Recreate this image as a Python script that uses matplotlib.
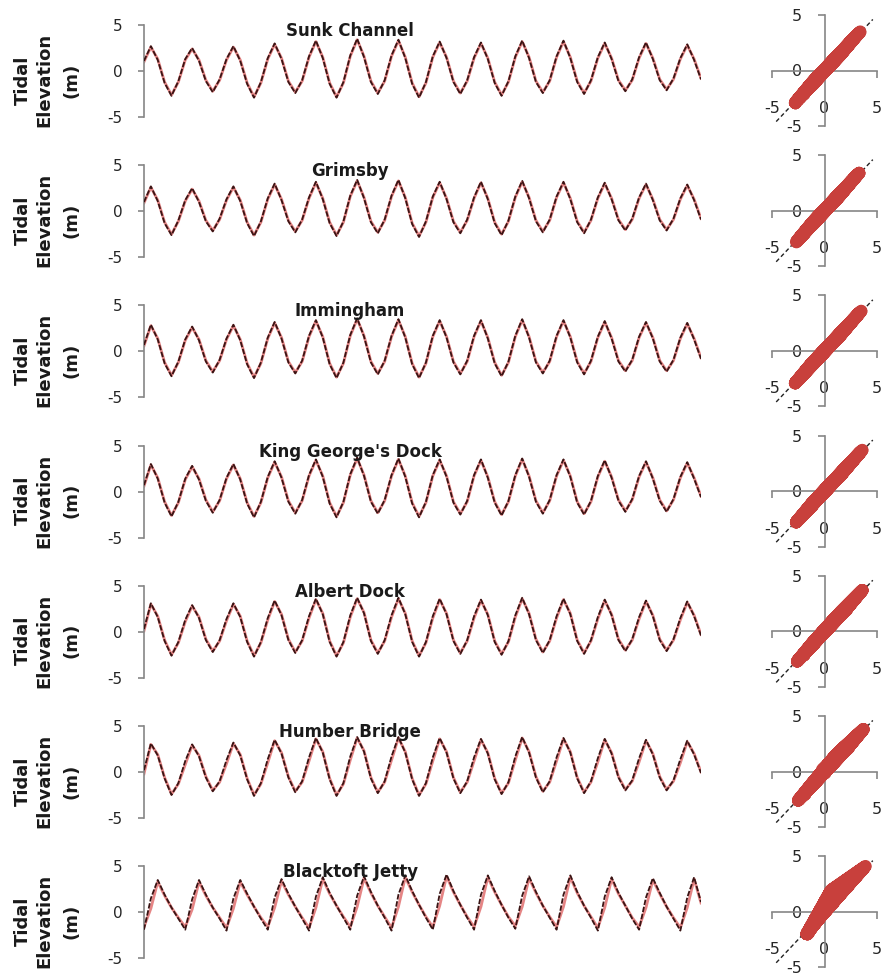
import matplotlib
matplotlib.use("Agg")
import matplotlib.pyplot as plt
import numpy as np

plt.rcParams["axes.unicode_minus"] = False

# tide gauges, seaward to landward
stations = ["Sunk Channel", "Grimsby", "Immingham", "King George's Dock",
            "Albert Dock", "Humber Bridge", "Blacktoft Jetty"]

# elevations (m), sampled 6 times per tidal cycle (~2.07 h)
sunk_model = [1.0, 2.6, 1.3, -1.2, -2.6, -1.2, 1.2, 2.4, 1.2, -1.0, -2.2, -1.0,
              1.2, 2.6, 1.2, -1.3, -2.8, -1.3, 1.3, 2.9, 1.4, -1.1, -2.3, -1.1,
              1.5, 3.2, 1.5, -1.3, -2.8, -1.3, 1.6, 3.4, 1.6, -1.1, -2.4, -1.1,
              1.6, 3.3, 1.5, -1.3, -2.8, -1.3, 1.5, 3.1, 1.5, -1.1, -2.4, -1.1,
              1.4, 3.0, 1.4, -1.2, -2.6, -1.2, 1.5, 3.2, 1.5, -1.1, -2.3, -1.1,
              1.5, 3.2, 1.5, -1.1, -2.4, -1.1, 1.4, 3.0, 1.4, -1.0, -2.1, -1.0,
              1.4, 3.0, 1.4, -0.9, -2.0, -0.9, 1.3, 2.8, 1.3, -0.8]
sunk_obs = [1.1, 2.7, 1.2, -1.3, -2.7, -1.1, 1.3, 2.5, 1.1, -1.1, -2.3, -0.9,
            1.3, 2.7, 1.1, -1.4, -2.9, -1.2, 1.4, 3.0, 1.3, -1.2, -2.4, -1.0,
            1.6, 3.3, 1.4, -1.4, -2.9, -1.2, 1.7, 3.5, 1.5, -1.2, -2.5, -1.0,
            1.7, 3.4, 1.4, -1.4, -2.9, -1.2, 1.6, 3.2, 1.4, -1.2, -2.5, -1.0,
            1.5, 3.1, 1.3, -1.3, -2.7, -1.1, 1.6, 3.3, 1.4, -1.2, -2.4, -1.0,
            1.6, 3.3, 1.4, -1.2, -2.5, -1.0, 1.5, 3.1, 1.3, -1.1, -2.2, -0.9,
            1.5, 3.1, 1.3, -1.0, -2.1, -0.8, 1.4, 2.9, 1.2, -0.9]

grimsby_model = [0.9, 2.6, 1.2, -1.2, -2.5, -1.1, 1.1, 2.4, 1.1, -1.0, -2.1, -0.9,
                 1.2, 2.6, 1.2, -1.2, -2.6, -1.2, 1.3, 2.9, 1.3, -1.0, -2.2, -1.0,
                 1.4, 3.1, 1.4, -1.2, -2.6, -1.2, 1.6, 3.3, 1.5, -1.1, -2.3, -1.0,
                 1.6, 3.3, 1.5, -1.3, -2.7, -1.2, 1.5, 3.1, 1.4, -1.1, -2.3, -1.0,
                 1.4, 3.1, 1.4, -1.2, -2.5, -1.1, 1.5, 3.2, 1.5, -1.0, -2.2, -1.0,
                 1.5, 3.1, 1.4, -1.1, -2.3, -1.0, 1.4, 3.0, 1.4, -0.9, -2.0, -0.9,
                 1.4, 2.9, 1.3, -0.9, -2.0, -0.9, 1.3, 2.8, 1.3, -0.8]
grimsby_obs = [1.0, 2.7, 1.1, -1.3, -2.6, -1.0, 1.2, 2.5, 1.0, -1.1, -2.2, -0.8,
               1.3, 2.7, 1.1, -1.3, -2.7, -1.1, 1.4, 3.0, 1.2, -1.1, -2.3, -0.9,
               1.5, 3.2, 1.3, -1.3, -2.7, -1.1, 1.7, 3.4, 1.4, -1.2, -2.4, -0.9,
               1.7, 3.4, 1.4, -1.4, -2.8, -1.1, 1.6, 3.2, 1.3, -1.2, -2.4, -0.9,
               1.5, 3.2, 1.3, -1.3, -2.6, -1.0, 1.6, 3.3, 1.4, -1.1, -2.3, -0.9,
               1.6, 3.2, 1.3, -1.2, -2.4, -0.9, 1.5, 3.1, 1.3, -1.0, -2.1, -0.8,
               1.5, 3.0, 1.2, -1.0, -2.1, -0.8, 1.4, 2.9, 1.2, -0.9]

immingham_model = [0.6, 2.8, 1.4, -1.2, -2.6, -1.2, 1.2, 2.6, 1.3, -1.0, -2.2, -1.0,
                   1.3, 2.8, 1.3, -1.3, -2.8, -1.3, 1.4, 3.1, 1.5, -1.1, -2.3, -1.1,
                   1.6, 3.3, 1.6, -1.3, -2.8, -1.3, 1.7, 3.5, 1.7, -1.1, -2.4, -1.1,
                   1.6, 3.4, 1.6, -1.3, -2.8, -1.3, 1.6, 3.3, 1.6, -1.1, -2.4, -1.1,
                   1.6, 3.3, 1.5, -1.2, -2.6, -1.2, 1.6, 3.4, 1.6, -1.1, -2.3, -1.1,
                   1.6, 3.3, 1.6, -1.1, -2.4, -1.1, 1.5, 3.2, 1.5, -1.0, -2.1, -1.0,
                   1.5, 3.1, 1.5, -1.0, -2.1, -1.0, 1.4, 3.0, 1.4, -0.7]
immingham_obs = [0.7, 2.9, 1.3, -1.3, -2.7, -1.1, 1.3, 2.7, 1.2, -1.1, -2.3, -0.9,
                 1.4, 2.9, 1.2, -1.4, -2.9, -1.2, 1.5, 3.2, 1.4, -1.2, -2.4, -1.0,
                 1.7, 3.4, 1.5, -1.4, -2.9, -1.2, 1.8, 3.6, 1.6, -1.2, -2.5, -1.0,
                 1.7, 3.5, 1.5, -1.4, -2.9, -1.2, 1.7, 3.4, 1.5, -1.2, -2.5, -1.0,
                 1.7, 3.4, 1.4, -1.3, -2.7, -1.1, 1.7, 3.5, 1.5, -1.2, -2.4, -1.0,
                 1.7, 3.4, 1.5, -1.2, -2.5, -1.0, 1.6, 3.3, 1.4, -1.1, -2.2, -0.9,
                 1.6, 3.2, 1.4, -1.1, -2.2, -0.9, 1.5, 3.1, 1.3, -0.8]

kgd_model = [0.6, 2.9, 1.5, -1.1, -2.6, -1.2, 1.3, 2.7, 1.4, -0.9, -2.2, -1.0,
             1.4, 2.9, 1.4, -1.2, -2.7, -1.2, 1.5, 3.2, 1.6, -1.0, -2.3, -1.0,
             1.7, 3.4, 1.7, -1.2, -2.7, -1.2, 1.8, 3.6, 1.8, -1.0, -2.3, -1.0,
             1.7, 3.5, 1.7, -1.2, -2.7, -1.2, 1.7, 3.4, 1.7, -1.1, -2.4, -1.1,
             1.7, 3.4, 1.6, -1.1, -2.5, -1.1, 1.7, 3.5, 1.7, -1.0, -2.3, -1.0,
             1.7, 3.4, 1.7, -1.1, -2.4, -1.1, 1.6, 3.3, 1.6, -0.9, -2.1, -0.9,
             1.6, 3.2, 1.5, -0.9, -2.1, -0.9, 1.5, 3.1, 1.5, -0.5]
kgd_obs = [0.7, 3.0, 1.4, -1.2, -2.7, -1.1, 1.4, 2.8, 1.3, -1.0, -2.3, -0.9,
           1.5, 3.0, 1.3, -1.3, -2.8, -1.1, 1.6, 3.3, 1.5, -1.1, -2.4, -0.9,
           1.8, 3.5, 1.6, -1.3, -2.8, -1.1, 1.9, 3.7, 1.7, -1.1, -2.4, -0.9,
           1.8, 3.6, 1.6, -1.3, -2.8, -1.1, 1.8, 3.5, 1.6, -1.2, -2.5, -1.0,
           1.8, 3.5, 1.5, -1.2, -2.6, -1.0, 1.8, 3.6, 1.6, -1.1, -2.4, -0.9,
           1.8, 3.5, 1.6, -1.2, -2.5, -1.0, 1.7, 3.4, 1.5, -1.0, -2.2, -0.8,
           1.7, 3.3, 1.4, -1.0, -2.2, -0.8, 1.6, 3.2, 1.4, -0.6]

albert_model = [0.1, 3.0, 1.7, -0.9, -2.5, -1.2, 1.1, 2.8, 1.6, -0.8, -2.1, -1.0,
                1.2, 3.0, 1.7, -1.0, -2.6, -1.2, 1.3, 3.3, 1.9, -0.8, -2.2, -1.0,
                1.5, 3.5, 2.0, -1.0, -2.6, -1.2, 1.6, 3.6, 2.1, -0.9, -2.3, -1.0,
                1.6, 3.6, 2.0, -1.0, -2.6, -1.2, 1.5, 3.5, 2.0, -0.9, -2.3, -1.0,
                1.5, 3.4, 1.9, -1.0, -2.4, -1.1, 1.6, 3.6, 2.0, -0.8, -2.2, -1.0,
                1.5, 3.5, 2.0, -0.9, -2.3, -1.0, 1.4, 3.4, 1.9, -0.8, -2.0, -0.9,
                1.4, 3.3, 1.8, -0.8, -2.0, -0.9, 1.3, 3.2, 1.8, -0.3]
albert_obs = [0.3, 3.1, 1.6, -1.0, -2.6, -1.1, 1.3, 2.9, 1.5, -0.9, -2.2, -0.9,
              1.4, 3.1, 1.6, -1.1, -2.7, -1.1, 1.5, 3.4, 1.8, -0.9, -2.3, -0.9,
              1.7, 3.6, 1.9, -1.1, -2.7, -1.1, 1.8, 3.7, 2.0, -1.0, -2.4, -0.9,
              1.8, 3.7, 1.9, -1.1, -2.7, -1.1, 1.7, 3.6, 1.9, -1.0, -2.4, -0.9,
              1.7, 3.5, 1.8, -1.1, -2.5, -1.0, 1.8, 3.7, 1.9, -0.9, -2.3, -0.9,
              1.7, 3.6, 1.9, -1.0, -2.4, -0.9, 1.6, 3.5, 1.8, -0.9, -2.1, -0.8,
              1.6, 3.4, 1.7, -0.9, -2.1, -0.8, 1.5, 3.3, 1.7, -0.4]

humber_model = [-0.2, 3.0, 1.9, -0.6, -2.4, -1.3, 0.8, 2.9, 1.8, -0.5, -2.0, -1.1,
                0.9, 3.1, 1.9, -0.7, -2.5, -1.3, 1.0, 3.4, 2.1, -0.5, -2.1, -1.1,
                1.2, 3.6, 2.2, -0.7, -2.5, -1.3, 1.3, 3.7, 2.3, -0.6, -2.2, -1.1,
                1.3, 3.7, 2.2, -0.7, -2.5, -1.3, 1.2, 3.6, 2.2, -0.6, -2.2, -1.1,
                1.2, 3.5, 2.1, -0.7, -2.3, -1.2, 1.3, 3.7, 2.2, -0.5, -2.1, -1.1,
                1.2, 3.6, 2.2, -0.6, -2.2, -1.1, 1.1, 3.5, 2.1, -0.5, -1.9, -1.0,
                1.1, 3.4, 2.0, -0.5, -1.9, -1.0, 1.0, 3.3, 2.0, 0.0]
humber_obs = [0.2, 3.1, 1.8, -0.7, -2.5, -1.2, 1.2, 3.0, 1.7, -0.6, -2.1, -1.0,
              1.3, 3.2, 1.8, -0.8, -2.6, -1.2, 1.4, 3.5, 2.0, -0.6, -2.2, -1.0,
              1.6, 3.7, 2.1, -0.8, -2.6, -1.2, 1.7, 3.8, 2.2, -0.7, -2.3, -1.0,
              1.7, 3.8, 2.1, -0.8, -2.6, -1.2, 1.6, 3.7, 2.1, -0.7, -2.3, -1.0,
              1.6, 3.6, 2.0, -0.8, -2.4, -1.1, 1.7, 3.8, 2.1, -0.6, -2.2, -1.0,
              1.6, 3.7, 2.1, -0.7, -2.3, -1.0, 1.5, 3.6, 2.0, -0.6, -2.0, -0.9,
              1.5, 3.5, 1.9, -0.6, -2.0, -0.9, 1.4, 3.4, 1.9, -0.1]

blacktoft_model = [-1.6, 0.4, 3.3, 1.8, 0.5, -0.6, -1.6, 0.3, 3.3, 1.8, 0.5, -0.6,
                   -1.7, 0.4, 3.3, 1.9, 0.6, -0.6, -1.6, 0.5, 3.4, 1.9, 0.6, -0.6,
                   -1.7, 0.5, 3.6, 2.0, 0.7, -0.5, -1.6, 0.6, 3.7, 2.1, 0.7, -0.5,
                   -1.7, 0.6, 3.8, 2.2, 0.8, -0.5, -1.6, 0.7, 3.9, 2.2, 0.8, -0.5,
                   -1.6, 0.6, 3.8, 2.2, 0.8, -0.5, -1.5, 0.6, 3.7, 2.1, 0.7, -0.5,
                   -1.6, 0.6, 3.8, 2.1, 0.7, -0.5, -1.7, 0.5, 3.6, 2.0, 0.7, -0.6,
                   -1.6, 0.5, 3.5, 2.0, 0.6, -0.6, -1.7, 0.5, 3.6, 1.0]
blacktoft_obs = [-1.9, 1.5, 3.5, 1.9, 0.5, -0.7, -1.9, 1.4, 3.5, 1.9, 0.5, -0.7,
                 -2.0, 1.5, 3.5, 2.0, 0.6, -0.7, -1.9, 1.6, 3.6, 2.0, 0.6, -0.7,
                 -2.0, 1.7, 3.8, 2.1, 0.7, -0.6, -1.9, 1.8, 3.9, 2.2, 0.7, -0.6,
                 -2.0, 1.9, 4.0, 2.3, 0.8, -0.6, -1.9, 2.0, 4.1, 2.3, 0.8, -0.6,
                 -1.9, 1.9, 4.0, 2.3, 0.8, -0.6, -1.8, 1.8, 3.9, 2.2, 0.7, -0.6,
                 -1.9, 1.9, 4.0, 2.2, 0.7, -0.6, -2.0, 1.7, 3.8, 2.1, 0.7, -0.7,
                 -1.9, 1.6, 3.7, 2.1, 0.6, -0.7, -2.0, 1.6, 3.8, 1.1]

model_runs = [sunk_model, grimsby_model, immingham_model, kgd_model,
              albert_model, humber_model, blacktoft_model]
obs_runs = [sunk_obs, grimsby_obs, immingham_obs, kgd_obs,
            albert_obs, humber_obs, blacktoft_obs]

W, H = 886, 976
red = "#c8403c"
line_red = "#e58585"
grey = "#868686"
txt = "#262626"

fig = plt.figure(figsize=(W / 100, H / 100), dpi=100)

for r, name in enumerate(stations):
    model = np.array(model_runs[r])
    obs = np.array(obs_runs[r])
    hours = np.arange(len(model)) * 2.07
    top = 25 + 140.2 * r

    # time series
    ax = fig.add_axes([144 / W, 1 - (top + 92) / H, 557 / W, 92 / H])
    ax.plot(hours, model, color=line_red, lw=2.0, zorder=2,
            solid_joinstyle="round")
    ax.plot(hours, obs, color="#3a1414", lw=1.3, dashes=(3, 1), zorder=3)
    ax.set_xlim(hours[0], hours[-1])
    ax.set_ylim(-5, 5)
    for s in ["top", "right", "bottom"]:
        ax.spines[s].set_visible(False)
    ax.spines["left"].set_color(grey)
    ax.spines["left"].set_linewidth(1.2)
    ax.set_xticks([])
    ax.set_yticks([-5, 0, 5])
    ax.tick_params(axis="y", length=4.5, width=1.2, color=grey, pad=11,
                   labelsize=11, labelcolor=txt)
    ax.text(0.37, 4.35, name, transform=ax.get_yaxis_transform(), ha="center",
            va="center", fontsize=12, fontweight="bold", color="#1a1a1a")

    cy = 1 - (top + 46 + 9) / H
    for x, word in [(23, "Tidal"), (44, "Elevation"), (71, "(m)")]:
        fig.text(x / W, cy, word, rotation=90, ha="center", va="center",
                 fontsize=13, fontweight="bold", color="#1a1a1a")

    # model vs observed
    sx = fig.add_axes([772 / W, 1 - (top - 10 + 111) / H, 105 / W, 111 / H])
    sx.plot([-4.6, 4.6], [-4.6, 4.6], color="#222222", lw=1.0, dashes=(3, 2), zorder=1)
    sx.plot(model, obs, color=red, lw=9, solid_capstyle="round",
            solid_joinstyle="round", zorder=3)
    sx.scatter(model, obs, s=70, color=red, lw=0, zorder=3)
    sx.set_xlim(-5, 5)
    sx.set_ylim(-5, 5)
    sx.spines["left"].set_position(("data", 0))
    sx.spines["bottom"].set_position(("data", 0))
    sx.spines["top"].set_visible(False)
    sx.spines["right"].set_visible(False)
    for s in ["left", "bottom"]:
        sx.spines[s].set_bounds(-5, 5)
        sx.spines[s].set_color(grey)
        sx.spines[s].set_linewidth(1.2)
    sx.set_xticks([-5, 0, 5])
    sx.set_yticks([-5, 0, 5])
    sx.tick_params(axis="y", length=5, width=1.2, color=grey, pad=11,
                   labelsize=11.5, labelcolor=txt)
    sx.tick_params(axis="x", length=5, width=1.2, color=grey, pad=17,
                   labelsize=11.5, labelcolor=txt)
    sx.patch.set_visible(False)

fig.savefig("out.png", dpi=100)
